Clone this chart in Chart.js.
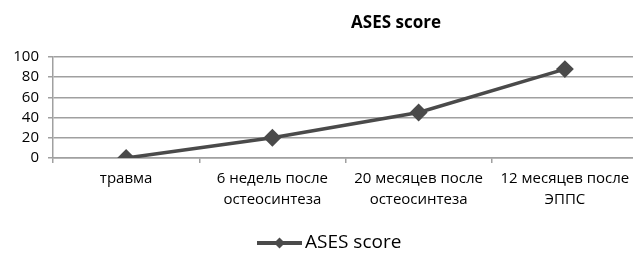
<!DOCTYPE html>
<html lang="ru">
<head>
    <meta charset="UTF-8">
    <title>ASES score</title>
    <script src="https://cdn.jsdelivr.net/npm/chart.js"></script>
    <style>
        html, body { margin: 0; padding: 0; background: #fff; overflow: hidden; }
        /* область графика в оригинале обрезана справа, поэтому холст чуть шире окна */
        #chart { display: block; }
    </style>
</head>
<body>
    <canvas id="chart" width="648" height="255"></canvas>

    <script>
        // данные графика
        const categories = [
            'травма',
            ['6 недель после', 'остеосинтеза'],
            ['20 месяцев после', 'остеосинтеза'],
            ['12 месяцев после', 'ЭППС']
        ];
        const asesScore = [0, 20, 45, 88];
        const yTicks = [0, 20, 40, 60, 80, 100];
        const seriesName = 'ASES score';
        const chartTitle = 'ASES score';

        const FONT = '"Open Sans", "DejaVu Sans", sans-serif';
        const LINE = '#4a4a4a';

        // заголовок и легенда рисуются вручную, как в оригинале
        const decorPlugin = {
            id: 'decor',
            afterDraw(chart) {
                const ctx = chart.ctx;
                ctx.save();
                ctx.fillStyle = '#000';
                ctx.textBaseline = 'middle';
                ctx.font = 'bold 17px ' + FONT;
                ctx.textAlign = 'center';
                ctx.fillText(chartTitle, 396, 23);

                // легенда: линия с ромбом и подпись
                const ds = chart.data.datasets[0];
                const ly = 243;
                ctx.fillStyle = ds.borderColor;
                ctx.fillRect(257, ly - 2, 45, 4);
                ctx.beginPath();
                ctx.moveTo(279.5, ly - 5.5);
                ctx.lineTo(285, ly);
                ctx.lineTo(279.5, ly + 5.5);
                ctx.lineTo(274, ly);
                ctx.closePath();
                ctx.fill();
                ctx.fillStyle = '#000';
                ctx.textAlign = 'left';
                ctx.font = '19px ' + FONT;
                ctx.fillText(ds.label, 305, ly);
                ctx.restore();
            }
        };

        new Chart(document.getElementById('chart'), {
            type: 'line',
            data: {
                labels: categories,
                datasets: [{
                    label: seriesName,
                    data: asesScore,
                    borderColor: LINE,
                    backgroundColor: LINE,
                    borderWidth: 3.5,
                    pointStyle: 'rectRot',
                    pointRadius: 6.5,
                    pointHoverRadius: 6.5,
                    tension: 0
                }]
            },
            plugins: [decorPlugin],
            options: {
                responsive: false,
                animation: false,
                layout: { padding: { top: 57, right: 2, left: 0, bottom: 40 } },
                plugins: {
                    title: { display: false },
                    tooltip: { enabled: false },
                    legend: { display: false }
                },
                scales: {
                    x: {
                        offset: true,
                        afterFit(axis) {
                            axis.paddingLeft = 0;
                            axis.paddingRight = 0;
                        },
                        grid: {
                            offset: true,
                            drawOnChartArea: false,
                            drawTicks: true,
                            tickLength: 5,
                            color: '#a0a0a0',
                            lineWidth: 1.5
                        },
                        border: { color: '#a0a0a0', width: 1.5 },
                        ticks: {
                            font: { family: FONT, size: 15, lineHeight: 1.4 },
                            color: '#000',
                            maxRotation: 0,
                            autoSkip: false,
                            padding: 5
                        }
                    },
                    y: {
                        min: 0,
                        max: 100,
                        afterBuildTicks(axis) {
                            axis.ticks = yTicks.map(v => ({ value: v }));
                        },
                        afterFit(axis) {
                            axis.width = 53;
                        },
                        grid: {
                            color: '#a0a0a0',
                            lineWidth: 1.5,
                            tickLength: 5
                        },
                        border: { color: '#a0a0a0', width: 1.5 },
                        ticks: {
                            font: { family: FONT, size: 15 },
                            color: '#000',
                            autoSkip: false,
                            padding: 9
                        }
                    }
                }
            }
        });
    </script>
</body>
</html>
